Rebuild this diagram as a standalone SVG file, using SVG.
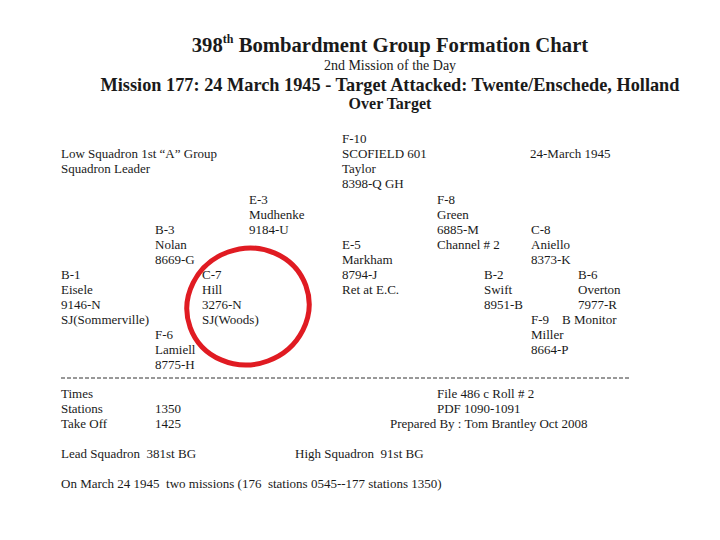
<svg xmlns="http://www.w3.org/2000/svg" width="720" height="540" viewBox="0 0 720 540">
<style>
text{font-family:"Liberation Serif","Times New Roman",serif;fill:#1a1a1a}
.b{font-size:13px}
.t1{font-size:20.7px;font-weight:bold}
.t2{font-size:14px}
.t3{font-size:18.3px;font-weight:bold}
.t4{font-size:16px;font-weight:bold}
</style>
<rect width="720" height="540" fill="#fff"/>
<g id="title" text-anchor="middle">
<text class="t1" x="390" y="52">398<tspan font-size="12" dy="-9">th</tspan><tspan dy="9"> Bombardment Group Formation Chart</tspan></text>
<text class="t2" x="390" y="70">2nd Mission of the Day</text>
<text class="t3" x="390" y="91">Mission 177: 24 March 1945 - Target Attacked: Twente/Enschede, Holland</text>
<text class="t4" x="390" y="109">Over Target</text>
</g>
<g id="header" class="b">
<text x="61" y="158">Low Squadron 1st “A” Group</text>
<text x="61" y="173">Squadron Leader</text>
<text x="530" y="158">24-March 1945</text>
</g>
<g id="F-10" class="b"><text x="342" y="143">F-10</text><text x="342" y="158">SCOFIELD 601</text><text x="342" y="173">Taylor</text><text x="342" y="188">8398-Q GH</text></g>
<g id="E-3" class="b"><text x="249" y="204">E-3</text><text x="249" y="219">Mudhenke</text><text x="249" y="234">9184-U</text></g>
<g id="F-8" class="b"><text x="437" y="204">F-8</text><text x="437" y="219">Green</text><text x="437" y="234">6885-M</text><text x="437" y="249">Channel # 2</text></g>
<g id="B-3" class="b"><text x="155" y="234">B-3</text><text x="155" y="249">Nolan</text><text x="155" y="264">8669-G</text></g>
<g id="C-8" class="b"><text x="531" y="234">C-8</text><text x="531" y="249">Aniello</text><text x="531" y="264">8373-K</text></g>
<g id="E-5" class="b"><text x="342" y="249">E-5</text><text x="342" y="264">Markham</text><text x="342" y="279">8794-J</text><text x="342" y="294">Ret at E.C.</text></g>
<g id="B-1" class="b"><text x="61" y="279">B-1</text><text x="61" y="294">Eisele</text><text x="61" y="309">9146-N</text><text x="61" y="324">SJ(Sommerville)</text></g>
<g id="C-7" class="b"><text x="202" y="279">C-7</text><text x="202" y="294">Hill</text><text x="202" y="309">3276-N</text><text x="202" y="324">SJ(Woods)</text></g>
<g id="B-2" class="b"><text x="484" y="279">B-2</text><text x="484" y="294">Swift</text><text x="484" y="309">8951-B</text></g>
<g id="B-6" class="b"><text x="578" y="279">B-6</text><text x="578" y="294">Overton</text><text x="578" y="309">7977-R</text></g>
<g id="F-9" class="b"><text x="531" y="324">F-9<tspan x="562">B Monitor</tspan></text><text x="531" y="339">Miller</text><text x="531" y="354">8664-P</text></g>
<g id="F-6" class="b"><text x="155" y="339">F-6</text><text x="155" y="354">Lamiell</text><text x="155" y="369">8775-H</text></g>
<g id="highlight"><ellipse cx="248" cy="306.5" rx="61.5" ry="58" transform="rotate(-20 248 306.5)" fill="none" stroke="#e01b22" stroke-width="5"/></g>
<g id="connectors"><line x1="61" y1="378" x2="630" y2="378" stroke="#333" stroke-width="1" stroke-dasharray="4,2"/></g>
<g id="footer" class="b">
<text x="61" y="398">Times</text>
<text x="61" y="413">Stations</text><text x="155" y="413">1350</text>
<text x="61" y="428">Take Off</text><text x="155" y="428">1425</text>
<text x="437" y="398">File 486 c Roll # 2</text>
<text x="437" y="413">PDF 1090-1091</text>
<text x="390" y="428">Prepared By : Tom Brantley Oct 2008</text>
<text x="61" y="458" xml:space="preserve">Lead Squadron  381st BG</text>
<text x="295" y="458" xml:space="preserve">High Squadron  91st BG</text>
<text x="61" y="488" xml:space="preserve">On March 24 1945  two missions (176  stations 0545--177 stations 1350)</text>
</g>
</svg>
